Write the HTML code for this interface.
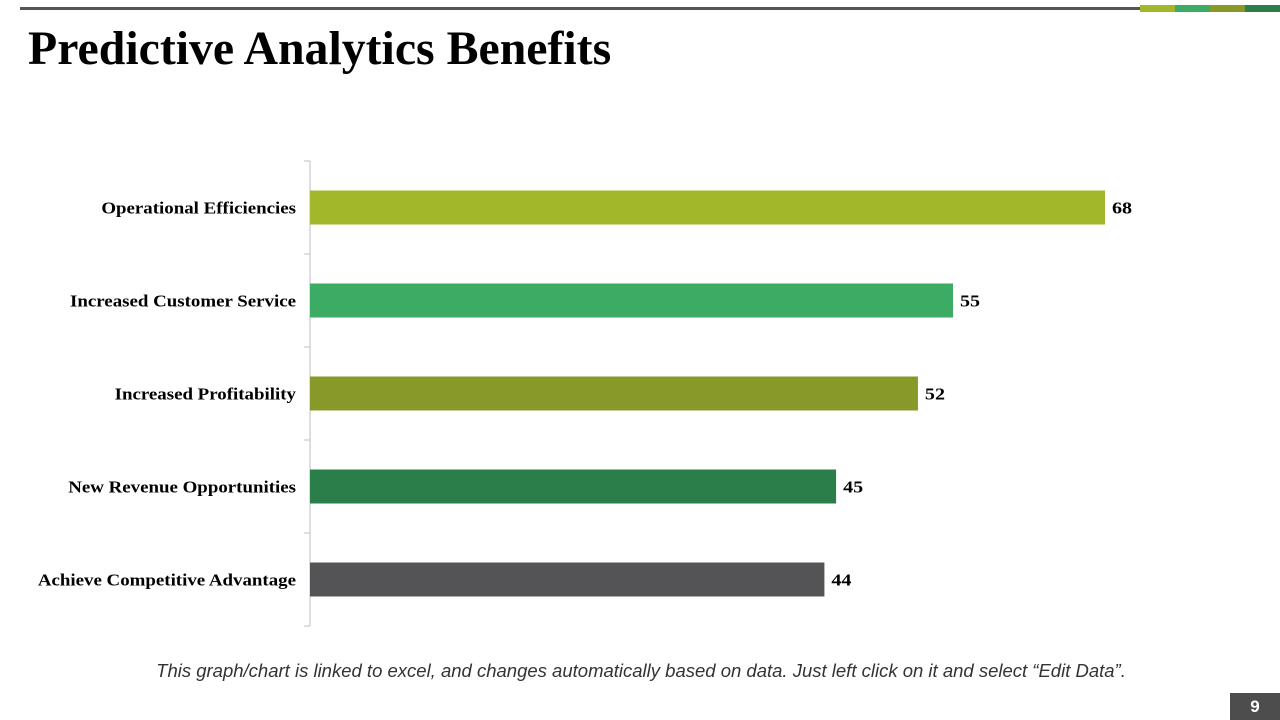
<!DOCTYPE html>
<html><head><meta charset="utf-8"><style>
body{margin:0;width:1280px;height:720px;background:#fff;position:relative;overflow:hidden;font-family:"Liberation Serif",serif}
.abs{position:absolute}
</style></head><body>
<div class="abs" style="left:20px;top:7px;width:1120px;height:3px;background:#555"></div>
<div class="abs" style="left:1140px;top:5px;width:140px;height:7px;display:flex">
<div style="flex:1;background:#a3b72b"></div><div style="flex:1;background:#3cab63"></div><div style="flex:1;background:#88992a"></div><div style="flex:1;background:#2b7d4a"></div></div>
<div class="abs" style="left:28px;top:21px;font-size:47.8px;font-weight:bold;color:#000">Predictive Analytics Benefits</div>
<svg class="abs" style="left:0;top:0" width="1280" height="720" id="chart"></svg>
<div class="abs" style="left:0;width:1280px;top:660px;text-align:center;font-family:'Liberation Sans',sans-serif;font-style:italic;font-size:18.5px;color:#333;margin-left:1px">This graph/chart is linked to excel, and changes automatically based on data. Just left click on it and select “Edit Data”.</div>
<div class="abs" style="left:1230px;top:693px;width:50px;height:27px;background:#4d4d4d;color:#fff;font-family:'Liberation Sans',sans-serif;font-weight:bold;font-size:17px;text-align:center;line-height:27px">9</div>
<script>
const categories=["Operational Efficiencies","Increased Customer Service","Increased Profitability","New Revenue Opportunities","Achieve Competitive Advantage"];
const values=[68,55,52,45,44];
const colors=["#a3b72b","#3cab63","#88992a","#2b7d4a","#545456"];
const svg=document.getElementById('chart');
const NS="http://www.w3.org/2000/svg";
const x0=310,top0=161,band=93,scale=795/68,bh=34;
const xs=v=>x0+v*scale;
function el(t,a){const e=document.createElementNS(NS,t);for(const k in a)e.setAttribute(k,a[k]);svg.appendChild(e);return e;}
function widen(t,f){const w=t.getComputedTextLength();t.setAttribute('textLength',w*f);t.setAttribute('lengthAdjust','spacingAndGlyphs');}
const ax=el('line',{x1:x0,y1:top0,x2:x0,y2:top0+band*categories.length,stroke:'#bfbfbf','stroke-width':1});


for(let i=0;i<=categories.length;i++){
 const t=el('line',{x1:x0-6,x2:x0,y1:top0+i*band,y2:top0+i*band,stroke:'#bfbfbf'});
 
 
}
categories.forEach((c,i)=>{
 const cy=top0+i*band+band/2;
 const r=el('rect',{x:x0,y:cy-bh/2,width:xs(values[i])-x0,height:bh,fill:colors[i]});
 
 
 const l=el('text',{x:296,y:cy+6,'text-anchor':'end','font-size':16.5,'font-weight':'bold','font-family':'Liberation Serif, serif',fill:'#000'});
 l.textContent=c;
 
 
 widen(l,1.145);
 const v=el('text',{x:xs(values[i])+7,y:cy+6,'font-size':17,'font-weight':'bold','font-family':'Liberation Serif, serif',fill:'#000'});
 v.textContent=values[i];
 
 
 widen(v,1.18);
});
</script>
</body></html>
